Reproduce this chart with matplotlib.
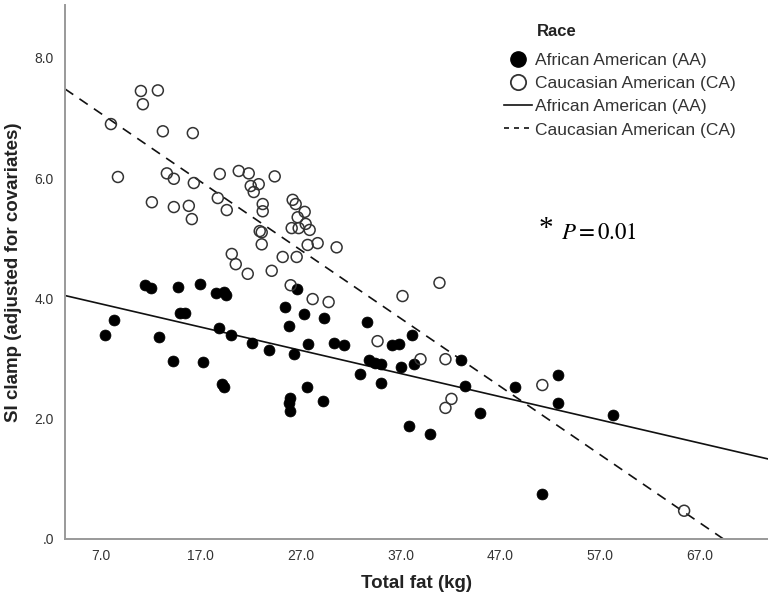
import matplotlib
matplotlib.use("Agg")
import matplotlib.pyplot as plt
from matplotlib.lines import Line2D
import numpy as np

plt.rcParams['font.family'] = ['Liberation Sans', 'DejaVu Sans']
plt.rcParams['mathtext.fontset'] = 'stix'

# Caucasian American (CA) points: total fat (kg), SI clamp
ca_fat = [11.0, 12.7, 11.2, 8.0, 13.2, 16.2, 8.7, 13.6, 14.3, 16.3,
          18.9, 20.8, 21.8, 22.0, 22.8, 22.3, 24.4, 18.7, 19.6, 12.1,
          14.3, 15.8, 16.1, 23.2, 23.2, 22.9, 23.1, 23.1, 20.1, 20.5,
          26.2, 26.5, 27.4, 26.7, 26.1, 26.8, 27.5, 27.9, 27.7, 28.7,
          30.6, 25.2, 26.6, 24.1, 21.7, 26.0, 28.2, 29.8, 37.2, 40.9,
          34.7, 39.0, 41.5, 42.1, 41.5, 51.2, 65.4]
ca_si = [7.45, 7.46, 7.23, 6.90, 6.78, 6.75, 6.02, 6.08, 5.99, 5.92,
         6.07, 6.12, 6.08, 5.87, 5.90, 5.77, 6.03, 5.67, 5.47, 5.60,
         5.52, 5.54, 5.32, 5.57, 5.45, 5.12, 5.10, 4.90, 4.74, 4.57,
         5.64, 5.57, 5.44, 5.35, 5.17, 5.17, 5.24, 5.14, 4.89, 4.92,
         4.85, 4.69, 4.69, 4.46, 4.41, 4.22, 3.99, 3.94, 4.04, 4.26,
         3.29, 2.99, 2.99, 2.33, 2.18, 2.56, 0.47]

# African American (AA) points
aa_fat = [11.4, 12.0, 14.7, 16.9, 18.5, 19.3, 19.5, 8.3, 7.4, 12.8,
          14.9, 15.4, 18.8, 20.0, 22.1, 14.2, 17.2, 19.1, 19.3, 26.6,
          25.4, 27.3, 29.3, 25.8, 33.6, 38.1, 27.7, 30.3, 31.3, 36.1,
          36.8, 23.8, 26.3, 33.8, 34.4, 35.0, 37.0, 38.3, 32.9, 35.0,
          27.6, 25.9, 25.8, 25.9, 29.2, 43.1, 43.5, 52.8, 48.5, 52.8,
          45.0, 58.3, 37.8, 40.0, 51.2]
aa_si = [4.22, 4.17, 4.19, 4.24, 4.09, 4.11, 4.06, 3.64, 3.39, 3.36,
         3.76, 3.76, 3.51, 3.39, 3.26, 2.96, 2.94, 2.58, 2.53, 4.16,
         3.86, 3.74, 3.67, 3.54, 3.61, 3.39, 3.24, 3.26, 3.23, 3.23,
         3.24, 3.14, 3.08, 2.98, 2.93, 2.91, 2.86, 2.91, 2.74, 2.59,
         2.53, 2.34, 2.26, 2.13, 2.29, 2.98, 2.54, 2.73, 2.53, 2.26,
         2.09, 2.06, 1.88, 1.75, 0.75]

# fit lines (intercept, slope)
aa_fit = (4.18, -0.0386)
ca_fit = (7.87, -0.1135)

x_ticks = [7, 17, 27, 37, 47, 57, 67]
y_ticks = [0, 2, 4, 6, 8]
y_tick_labels = ['.0', '2.0', '4.0', '6.0', '8.0']

fig = plt.figure(figsize=(7.68, 6), dpi=100)
ax = fig.add_axes([65 / 768, 61 / 600, 703 / 768, 534 / 600])
xmin, xmax = 3.4, 73.8
ax.set_xlim(xmin, xmax)
ax.set_ylim(0, 8.88)

# regression lines
xs = np.array([xmin, xmax])
ax.plot(xs, aa_fit[0] + aa_fit[1] * xs, color='#111111', lw=1.2, zorder=2)
ax.plot(xs, ca_fit[0] + ca_fit[1] * xs, color='#111111', lw=1.2,
        dashes=(6, 4.5), zorder=2)

# points
ax.scatter(aa_fat, aa_si, s=62, color='black', edgecolors='black',
           linewidths=0.5, zorder=3)
ax.scatter(ca_fat, ca_si, s=62, facecolors='none', edgecolors='#333333',
           linewidths=1.1, zorder=3)

for side in ['top', 'right']:
    ax.spines[side].set_visible(False)
for side in ['left', 'bottom']:
    ax.spines[side].set_color('#999999')
    ax.spines[side].set_linewidth(1.4)

ax.set_xticks(x_ticks)
ax.set_xticklabels([f"{v:.1f}" for v in x_ticks],
                   family=['Liberation Sans Narrow', 'Liberation Sans'])
ax.set_yticks(y_ticks)
ax.set_yticklabels(y_tick_labels)
ax.tick_params(length=0, labelsize=10, colors='#333333', pad=8)
ax.tick_params(axis='x', pad=7)

ax.set_xlabel('Total fat (kg)', fontsize=13.5, fontweight='bold', labelpad=9,
              color='#222222')
ax.set_ylabel('SI clamp (adjusted for covariates)', fontsize=13.5,
              fontweight='bold', labelpad=9, color='#222222')

# P value annotation
ax.text(0.674, 0.58, '*', transform=ax.transAxes, fontsize=21,
        family='Liberation Serif', ha='left', va='center')
ax.text(0.706, 0.574, '$P = 0.01$', transform=ax.transAxes, fontsize=16.5,
        ha='left', va='center')

handles = [
    Line2D([], [], marker='o', ls='none', color='black', markersize=11),
    Line2D([], [], marker='o', ls='none', markerfacecolor='none',
           markeredgecolor='#333333', markeredgewidth=1.3, markersize=11),
    Line2D([], [], color='#111111', lw=1.2),
    Line2D([], [], color='#111111', lw=1.2, dashes=(3, 3)),
]
labels = ['African American (AA)', 'Caucasian American (CA)',
          'African American (AA)', 'Caucasian American (CA)']
fig.text(557 / 768, 1 - 32 / 600, 'Race', fontsize=12, fontweight='bold',
         ha='center', va='center', color='#222222')
leg = fig.legend(handles, labels, loc='upper left',
                 bbox_to_anchor=(504 / 768, 1 - 53 / 600), frameon=False,
                 fontsize=12.5, handlelength=1.6, handletextpad=0.2,
                 labelspacing=0.46, borderaxespad=0, borderpad=0)
for t in leg.get_texts():
    t.set_color('#333333')

fig.savefig('out.png', dpi=100)
